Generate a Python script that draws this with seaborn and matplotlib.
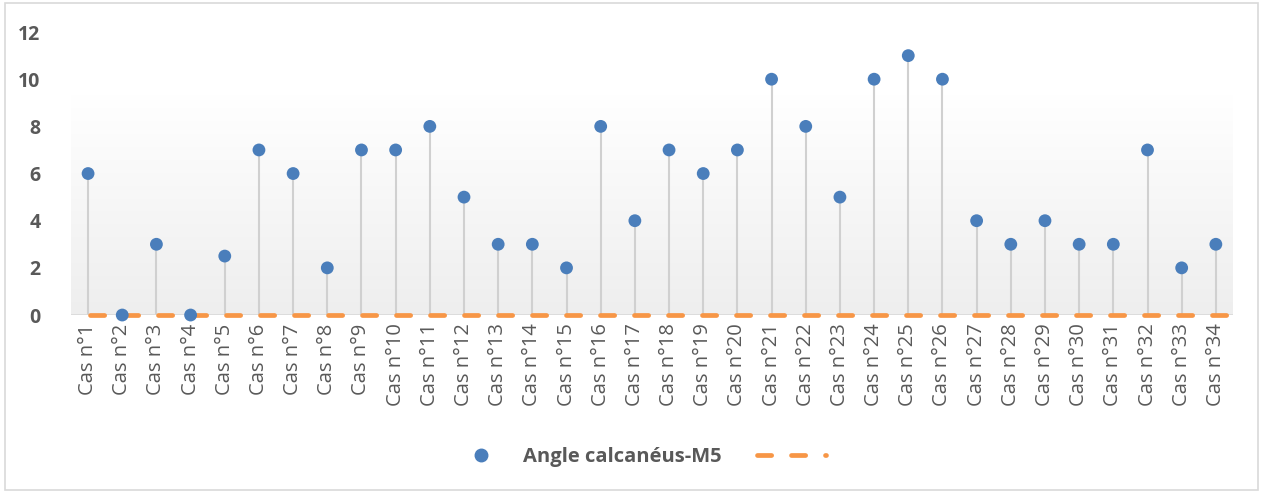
import numpy as np
import pandas as pd
import matplotlib
matplotlib.use("Agg")
import matplotlib.pyplot as plt
from matplotlib.colors import LinearSegmentedColormap
from matplotlib.lines import Line2D
from matplotlib.patches import Rectangle
import seaborn as sns

# Data
cases = [f"Cas n°{i}" for i in range(1, 35)]
angle_values = [6, 0, 3, 0, 2.5, 7, 6, 2, 7, 7, 8, 5, 3, 3, 2, 8, 4, 7, 6, 7,
                10, 8, 5, 10, 11, 10, 4, 3, 4, 3, 3, 7, 2, 3]
reference_values = [0] * 34
series_label = "Angle calcanéus-M5"
y_ticks = [0, 2, 4, 6, 8, 10, 12]

sns.set_theme(style="white")
plt.rcParams["font.family"] = ["Open Sans", "DejaVu Sans"]

text_color = "#595959"
blue = "#4a7ebb"
orange = "#f79646"

df = pd.DataFrame({"case": cases, "pos": np.arange(len(cases)),
                   "angle": angle_values, "ref": reference_values})

fig = plt.figure(figsize=(12.63, 4.93), dpi=100)
ax = fig.add_axes([0.0562, 0.361, 0.9200, 0.574])

# soft gradient panel behind the marks
grad = LinearSegmentedColormap.from_list("panel", ["#ffffff", "#eeeeee"])
ax.imshow(np.linspace(0, 1, 256).reshape(-1, 1), cmap=grad, aspect="auto",
          extent=(-0.5, 33.5, 0, 9.3), origin="upper", zorder=0)

# drop lines from each point down to the baseline
ax.vlines(df["pos"], 0, df["angle"], color="#d0d0d0", linewidth=1.5, zorder=1)

# baseline
ax.axhline(0, color="#d9d9d9", linewidth=1.2, zorder=1)

# dashed zero series
lw_ref = 3.4
dash_pat = (3.0, 4.2)
xs = np.r_[df["pos"].to_numpy() + 0.06, df["pos"].iloc[-1] + 0.5]
ys = np.r_[df["ref"].to_numpy(), df["ref"].iloc[-1]]
ref_line, = ax.plot(xs, ys, color=orange, linewidth=lw_ref, zorder=2,
                    clip_on=False)
ref_line.set_dashes(dash_pat)
ref_line.set_dash_capstyle("round")

sns.scatterplot(data=df, x="pos", y="angle", ax=ax, color=blue, s=85,
                edgecolor="none", zorder=3, legend=False, clip_on=False)

ax.set_xlim(-0.5, 33.5)
ax.set_ylim(0, 12)
ax.set_yticks(y_ticks)
ax.set_yticklabels([str(t) for t in y_ticks], fontsize=14, fontweight="bold",
                   color=text_color)
ax.set_xticks(df["pos"])
ax.set_xticklabels(cases, rotation=90, fontsize=14.5, color=text_color)
ax.tick_params(axis="both", length=0)
ax.tick_params(axis="y", pad=22)
ax.tick_params(axis="x", pad=6)
ax.set_xlabel("")
ax.set_ylabel("")
for sp in ax.spines.values():
    sp.set_visible(False)
ax.patch.set_alpha(0)

legend_line = Line2D([], [], color=orange, linewidth=lw_ref, dashes=dash_pat,
                     dash_capstyle="round")
handles = [
    Line2D([], [], marker="o", linestyle="none", color=blue, markersize=9),
    legend_line,
]
fig.legend(handles, [series_label, ""], loc="center", ncol=2,
           bbox_to_anchor=(0.507, 0.073), frameon=False,
           prop={"size": 14.5, "weight": "bold"}, labelcolor=text_color,
           handlelength=3.4, columnspacing=1.75, handletextpad=0.4)

# outer frame of the chart
fig.patches.append(Rectangle((0.004, 0.006), 0.992, 0.988, transform=fig.transFigure,
                             fill=False, edgecolor="#d9d9d9", linewidth=1.2))

fig.savefig("out.png", dpi=100, facecolor="white")
